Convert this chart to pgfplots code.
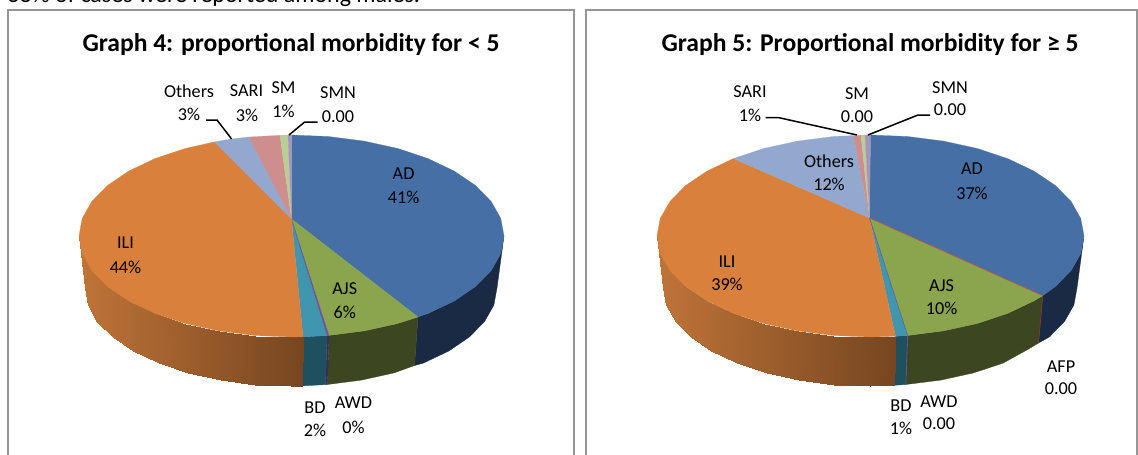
\documentclass[border=0pt]{standalone}
\usepackage{fontspec}
\setmainfont{Carlito}
\usepackage{pgfplots}
\pgfplotsset{compat=1.18}
\usepgfplotslibrary{patchplots}
\definecolor{cAD}{RGB}{70,112,165}
\definecolor{cILI}{RGB}{217,128,60}
\definecolor{cAJS}{RGB}{138,165,78}
\definecolor{cBD}{RGB}{64,150,175}
\definecolor{cAWD}{RGB}{110,85,150}
\definecolor{cAFP}{RGB}{190,75,72}
\definecolor{cOth}{RGB}{146,168,206}
\definecolor{cSARI}{RGB}{206,142,141}
\definecolor{cSM}{RGB}{185,205,150}
\definecolor{cSMN}{RGB}{165,150,190}
\definecolor{dAD}{RGB}{26,42,68}
\definecolor{dAJS}{RGB}{60,70,32}
\definecolor{dBD}{RGB}{30,80,95}
\definecolor{dAWD}{RGB}{60,45,85}
\definecolor{frame}{RGB}{150,150,150}
\newcommand\lab[3]{\node[align=center,font=\fontsize{18.2}{18.2}\selectfont,inner sep=0pt] at (axis cs:#1,#2) {#3};}
\tikzset{lead/.style={black,line width=1.5pt}, fr/.style={frame,line width=2pt}}
\begin{document}
\begin{tikzpicture}
\path[use as bounding box] (0,0) rectangle (1138pt,455pt);
\begin{axis}[at={(0,0)},anchor=south west,width=1138pt,height=455pt,scale only axis,
 xmin=0,xmax=1138,ymin=0,ymax=455,y dir=reverse,hide axis,clip=false,
 point meta min=0,point meta max=1,
 colormap={ili}{rgb255(0cm)=(192,116,56) rgb255(1cm)=(118,70,32)}]
% frames
\addplot[fr] coordinates {(8,455)(8,9.5)(574,9.5)(574,455)};
\addplot[fr] coordinates {(586,455)(586,9.5)(1137,9.5)(1137,455)};
% ---------- left pie, sides
\addplot[fill=dAD,draw=dAD,line width=.3pt] coordinates {(504,236)(500.8,253.5)(491.2,270.5)(475.5,286.5)(454.3,301)(428.1,313.4)(418,317)(414.6,365.5)(423.4,363.1)(448.8,351)(469.4,337)(484.6,321.5)(493.9,305)(497,288)} -- cycle;
\addplot[fill=dAJS,draw=dAJS,line width=.3pt] coordinates {(418,317)(397.8,323.5)(364.2,330.9)(329,335.4)(327.5,384.5)(361.5,380.1)(394,372.9)(414.6,365.5)} -- cycle;
\addplot[fill=dAWD,draw=dAWD,line width=.3pt] coordinates {(329,335.4)(327,335.6)(325.5,384.6)(327.5,384.5)} -- cycle;
\addplot[fill=dBD,draw=dBD,line width=.3pt] coordinates {(327,335.6)(303,336.8)(302.1,385.9)(325.5,384.6)} -- cycle;
\addplot[surf,shader=interp,mesh/rows=2,mesh/cols=11,colormap name=ili,point meta=explicit] table[meta=m] {
x y m
79 236 0
82.2 253.5 0.01
91.8 270.5 0.05
107.5 286.5 0.12
128.7 300.9 0.22
154.9 313.4 0.34
185.25 323.5 0.47
218.8 330.9 0.62
254.6 335.5 0.78
291.5 337 0.95
303 336.8 1
85 288 0.02
88.1 305 0.04
97.4 321.5 0.08
112.6 337 0.15
133.2 351 0.24
158.6 363.1 0.35
188 372.9 0.485
220.5 380.1 0.63
255.2 384.5 0.79
291 386 0.94
302.1 385.9 1
};
% ---------- left pie, top
\addplot[fill=cAD,draw=cAD,line width=.2pt] coordinates {(291.5,219)(291.5,135)(328.4,136.5)(364.2,141.1)(397.8,148.5)(428.1,158.6)(454.3,171.1)(475.5,185.5)(491.2,201.5)(500.8,218.5)(504,236)(500.8,253.5)(491.2,270.5)(475.5,286.5)(454.3,301)(428.1,313.4)(418,317)} -- cycle;
\addplot[fill=cAJS,draw=cAJS,line width=.2pt] coordinates {(291.5,219)(418,317)(397.8,323.5)(364.2,330.9)(329,335.4)} -- cycle;
\addplot[fill=cBD,draw=cBD,line width=.2pt] coordinates {(291.5,219)(327,335.6)(303,336.8)} -- cycle;
\addplot[fill=cAWD,draw=cAWD,line width=.2pt] coordinates {(291.5,219)(329,335.4)(327,335.6)} -- cycle;
\addplot[fill=cILI,draw=cILI,line width=.2pt] coordinates {(291.5,219)(303,336.8)(291.5,337)(254.6,335.5)(218.8,330.9)(185.25,323.5)(154.9,313.4)(128.7,300.9)(107.5,286.5)(91.8,270.5)(82.2,253.5)(79,236)(82.2,218.5)(91.8,201.5)(107.5,185.5)(128.7,171.1)(154.9,158.6)(185.25,148.5)(214.5,141.9)} -- cycle;
\addplot[fill=cOth,draw=cOth,line width=.2pt] coordinates {(291.5,219)(214.5,141.9)(231,139)(249,137)} -- cycle;
\addplot[fill=cSARI,draw=cSARI,line width=.2pt] coordinates {(291.5,219)(249,137)(280,135.3)} -- cycle;
\addplot[fill=cSM,draw=cSM,line width=.2pt] coordinates {(291.5,219)(280,135.3)(288,135)} -- cycle;
\addplot[fill=cSMN,draw=cSMN,line width=.2pt] coordinates {(291.5,219)(288,135)(291.5,135)} -- cycle;
% ---------- right pie, sides
\addplot[fill=dAD,draw=dAD,line width=.3pt] coordinates {(1084,236)(1080.8,253.5)(1071.1,270.5)(1055.4,286.5)(1042.7,295.7)(1038.5,343)(1049.3,337)(1064.5,321.5)(1073.9,305)(1077,288)} -- cycle;
\addplot[fill=dAJS,draw=dAJS,line width=.3pt] coordinates {(1042.7,295.7)(1034,300.9)(1007.7,313.4)(977.25,323.5)(943.5,330.9)(907.6,335.5)(905.9,384.5)(940.8,380.1)(973.5,372.9)(1003.1,363.1)(1028.6,349)(1038.5,343)} -- cycle;
\addplot[fill=dBD,draw=dBD,line width=.3pt] coordinates {(907.6,335.5)(895.5,336.3)(894.2,385.3)(905.9,384.5)} -- cycle;
\addplot[cAFP!70!black,line width=.7pt] coordinates {(1042.7,295.7)(1038.5,343)};
\addplot[cAWD,line width=.6pt] coordinates {(907.6,335.5)(905.9,384.5)};
\addplot[surf,shader=interp,mesh/rows=2,mesh/cols=11,colormap name=ili,point meta=explicit] table[meta=m] {
x y m
657 236 0
660.2 253.5 0.01
669.9 270.5 0.05
685.6 286.5 0.12
707 300.9 0.21
733.3 313.4 0.32
763.75 323.5 0.45
797.5 330.9 0.59
833.4 335.5 0.74
870.5 337 0.90
895.5 336.3 1
663 288 0.02
666.1 305 0.04
675.5 321.5 0.08
690.7 337 0.14
711.4 351 0.23
736.9 363.1 0.34
766.5 372.9 0.46
799.2 380.1 0.60
834.1 384.5 0.74
870 386 0.89
894.2 385.3 1
};
% ---------- right pie, top
\addplot[fill=cAD,draw=cAD,line width=.2pt] coordinates {(869.5,218)(870.5,135)(907.6,136.5)(943.5,141.1)(977.25,148.5)(1007.7,158.6)(1034,171.1)(1055.4,185.5)(1071.1,201.5)(1080.8,218.5)(1084,236)(1080.8,253.5)(1071.1,270.5)(1055.4,286.5)(1042.7,295.7)} -- cycle;
\addplot[fill=cAJS,draw=cAJS,line width=.2pt] coordinates {(869.5,218)(1042.7,295.7)(1034,300.9)(1007.7,313.4)(977.25,323.5)(943.5,330.9)(907.6,335.5)} -- cycle;
\addplot[fill=cBD,draw=cBD,line width=.2pt] coordinates {(869.5,218)(907.6,335.5)(895.5,336.3)} -- cycle;
\addplot[fill=cILI,draw=cILI,line width=.2pt] coordinates {(869.5,218)(895.5,336.3)(870.5,337)(833.4,335.5)(797.5,330.9)(763.75,323.5)(733.3,313.4)(707,300.9)(685.6,286.5)(669.9,270.5)(660.2,253.5)(657,236)(660.2,218.5)(669.9,201.5)(685.6,185.5)(707,171.1)(733.3,158.6)} -- cycle;
\addplot[fill=cOth,draw=cOth,line width=.2pt] coordinates {(869.5,218)(733.3,158.6)(763.75,148.5)(797.5,141.1)(833.4,136.5)(853.3,135.6)} -- cycle;
\addplot[fill=cSARI,draw=cSARI,line width=.2pt] coordinates {(869.5,218)(853.3,135.6)(861,135.2)} -- cycle;
\addplot[fill=cSM,draw=cSM,line width=.2pt] coordinates {(869.5,218)(861,135.2)(865,135)} -- cycle;
\addplot[fill=cSMN,draw=cSMN,line width=.2pt] coordinates {(869.5,218)(865,135)(870.5,135)} -- cycle;
\addplot[cAFP,line width=.6pt] coordinates {(869.5,218)(1042.7,295.7)};
\addplot[cAWD,line width=.5pt] coordinates {(869.5,218)(907.6,335.5)};
% leaders
\addplot[lead] coordinates {(206,120)(217,120)(231.6,139)};
\addplot[lead] coordinates {(317.5,122)(304.7,122)(289,135)};
\addplot[lead] coordinates {(765.6,117.7)(779,117.7)(857,135)};
\addplot[lead] coordinates {(930,115)(918,115)(868,135)};
% text
\node[anchor=base west,inner sep=0pt,font=\fontsize{24}{24}\selectfont] at (axis cs:8,2) {55\% of cases were reported among males.};
\node[font=\fontsize{25.6}{25.6}\selectfont\bfseries,inner sep=0pt] at (axis cs:291,45) {Graph 4: proportional morbidity for < 5};
\node[font=\fontsize{25.6}{25.6}\selectfont\bfseries,inner sep=0pt] at (axis cs:870,45) {Graph 5: Proportional morbidity for ≥ 5};
\lab{189}{91}{Others}\lab{189}{114}{3\%}
\lab{246.5}{91}{SARI}\lab{247}{115}{3\%}
\lab{283.6}{88}{SM}\lab{283.6}{111}{1\%}
\lab{338}{93}{SMN}\lab{338}{117}{0.00}
\lab{403.6}{174}{AD}\lab{403.6}{197}{41\%}
\lab{125.5}{243}{ILI}\lab{125.5}{267}{44\%}
\lab{344.7}{289}{AJS}\lab{344.7}{312}{6\%}
\lab{315}{407.7}{BD}\lab{315}{430.7}{2\%}
\lab{353.5}{403}{AWD}\lab{353.5}{427}{0\%}
\lab{750}{92}{SARI}\lab{750}{115}{1\%}
\lab{857}{94}{SM}\lab{857}{117}{0.00}
\lab{950}{88}{SMN}\lab{950}{110}{0.00}
\lab{972}{169}{AD}\lab{972}{193}{37\%}
\lab{829}{161}{Others}\lab{829}{184}{12\%}
\lab{727}{262}{ILI}\lab{727}{284}{39\%}
\lab{941.6}{286}{AJS}\lab{941.6}{308}{10\%}
\lab{1061}{367}{AFP}\lab{1061}{389}{0.00}
\lab{901}{405.7}{BD}\lab{901}{428}{1\%}
\lab{939}{402}{AWD}\lab{939}{424}{0.00}
\end{axis}
\end{tikzpicture}
\end{document}
